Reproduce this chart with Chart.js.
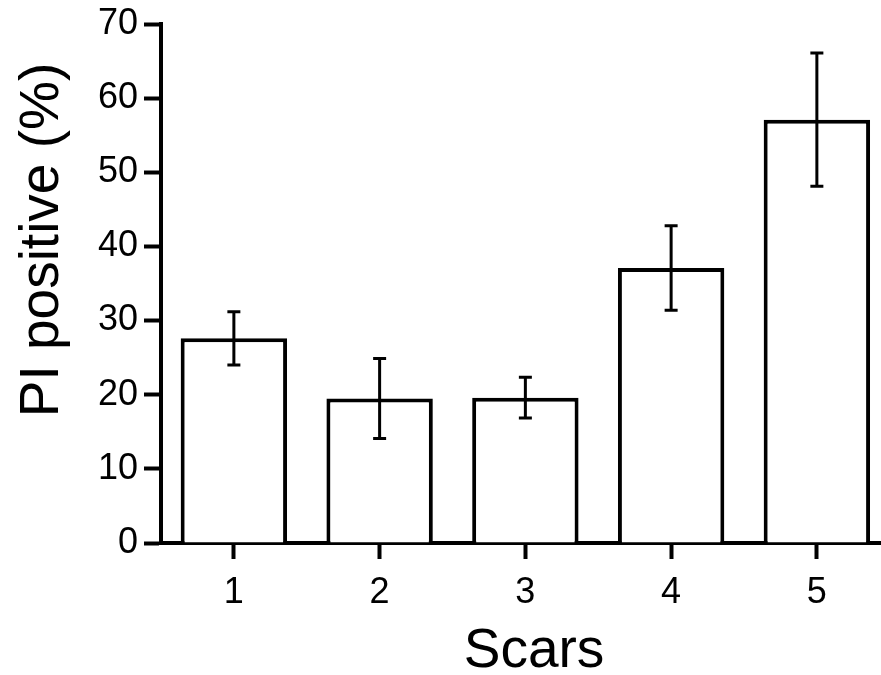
<!DOCTYPE html>
<html>
<head>
<meta charset="utf-8">
<script src="https://cdn.jsdelivr.net/npm/chart.js@4.4.1/dist/chart.umd.min.js"></script>
<style>
  html, body { margin: 0; padding: 0; background: #fff; overflow: hidden; }
</style>
</head>
<body>
<canvas id="barchart" width="881" height="675"></canvas>
<script>
// values
const scars = [1, 2, 3, 4, 5];
const piPositive = [27.6, 19.5, 19.6, 37.1, 57.1];
const piError = [3.6, 5.4, 2.75, 5.7, 9.0];
const yTicks = [0, 10, 20, 30, 40, 50, 60, 70];
const xTitle = "Scars";
const yTitle = "PI positive (%)";

const fontFamily = '"Liberation Sans", Arial, Helvetica, sans-serif';

const errorBars = {
  id: "errorBars",
  afterDatasetsDraw(chart) {
    const ctx = chart.ctx;
    const yScale = chart.scales.y;
    const meta = chart.getDatasetMeta(0);
    const cap = 6.5;
    ctx.save();
    ctx.strokeStyle = "#000";
    ctx.lineWidth = 3;
    meta.data.forEach((bar, i) => {
      const top = yScale.getPixelForValue(piPositive[i] + piError[i]);
      const bottom = yScale.getPixelForValue(piPositive[i] - piError[i]);
      ctx.beginPath();
      ctx.moveTo(bar.x, top);
      ctx.lineTo(bar.x, bottom);
      ctx.moveTo(bar.x - cap, top);
      ctx.lineTo(bar.x + cap, top);
      ctx.moveTo(bar.x - cap, bottom);
      ctx.lineTo(bar.x + cap, bottom);
      ctx.stroke();
    });
    ctx.restore();
  },
};

// axis titles sit a little off centre in the original, so draw them here
const axisTitles = {
  id: "axisTitles",
  afterDraw(chart) {
    const ctx = chart.ctx;
    const area = chart.chartArea;
    ctx.save();
    ctx.fillStyle = "#000";
    ctx.font = "55px " + fontFamily;
    ctx.textAlign = "center";
    ctx.textBaseline = "alphabetic";
    ctx.fillText(xTitle, area.left + 373, area.bottom + 124);
    ctx.translate(58, area.top + 216);
    ctx.rotate(-Math.PI / 2);
    ctx.fillText(yTitle, 0, 0);
    ctx.restore();
  },
};

const canvas = document.getElementById("barchart").getContext("2d");

new Chart(canvas, {
  type: "bar",
  data: {
    datasets: [
      {
        data: scars.map((s, i) => ({ x: s, y: piPositive[i] })),
        backgroundColor: "#fff",
        borderColor: "#000",
        borderWidth: 4,
        borderSkipped: "start",
        barPercentage: 0.73,
        categoryPercentage: 1,
      },
    ],
  },
  options: {
    responsive: false,
    animation: false,
    layout: { padding: { top: 23, right: 0, left: 0, bottom: 0 } },
    plugins: {
      legend: { display: false },
      tooltip: { enabled: false },
    },
    scales: {
      x: {
        type: "linear",
        min: 0.5,
        max: 5.44,
        offset: false,
        afterBuildTicks: (scale) => {
          scale.ticks = scars.map((v) => ({ value: v }));
        },
        afterFit: (scale) => {
          scale.height = 132;
        },
        grid: {
          display: true,
          offset: false,
          drawOnChartArea: false,
          drawTicks: true,
          tickLength: 16,
          tickWidth: 4,
          tickColor: "#000",
          color: "#000",
        },
        border: { display: true, color: "#000", width: 4 },
        ticks: {
          color: "#000",
          padding: 12,
          font: { family: fontFamily, size: 36 },
          maxRotation: 0,
        },
      },
      y: {
        min: 0,
        max: 70,
        afterBuildTicks: (scale) => {
          scale.ticks = yTicks.map((v) => ({ value: v }));
        },
        afterFit: (scale) => {
          scale.width = 161;
        },
        grid: {
          display: true,
          drawOnChartArea: false,
          drawTicks: true,
          tickLength: 17,
          tickWidth: 4,
          tickColor: "#000",
          color: "#000",
        },
        border: { display: true, color: "#000", width: 4 },
        ticks: {
          color: "#000",
          padding: 6,
          font: { family: fontFamily, size: 36, lineHeight: 1 },
        },
      },
    },
  },
  plugins: [errorBars, axisTitles],
});
</script>
</body>
</html>
